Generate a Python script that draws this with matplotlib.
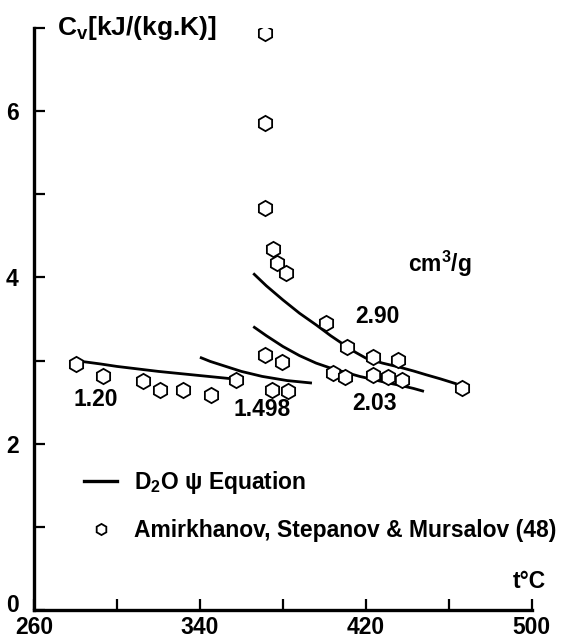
import numpy as np
import matplotlib.pyplot as plt
import matplotlib.transforms as mtransforms
from matplotlib.lines import Line2D

plt.rcParams['font.family'] = ['Liberation Sans', 'DejaVu Sans']
plt.rcParams['font.weight'] = 'bold'
plt.rcParams['mathtext.fontset'] = 'custom'
plt.rcParams['mathtext.rm'] = 'Liberation Sans:bold'
plt.rcParams['mathtext.bf'] = 'Liberation Sans:bold'
plt.rcParams['mathtext.it'] = 'Liberation Sans:bold'

# measured Cv points, Amirkhanov et al.
t_meas = [280.2, 293.1, 312.4, 320.7, 332.0, 345.2, 357.3,
          371.3, 371.3, 371.3, 375.3, 377.0, 381.3,
          371.3, 379.7, 374.5, 382.3,
          400.6, 411.0, 404.2, 409.9, 423.2, 423.2,
          435.6, 430.5, 437.2, 466.1]
cv_meas = [2.96, 2.82, 2.75, 2.65, 2.65, 2.59, 2.77,
           6.94, 5.86, 4.83, 4.34, 4.17, 4.06,
           3.07, 2.98, 2.65, 2.64,
           3.45, 3.16, 2.85, 2.80, 3.04, 2.83,
           3.01, 2.80, 2.77, 2.67]

# D2O psi equation curves (cm3/g)
t_120 = [283, 292, 300, 310, 320, 330, 340, 348, 356]
cv_120 = [2.99, 2.96, 2.93, 2.90, 2.87, 2.845, 2.82, 2.80, 2.78]
t_1498 = [340, 345, 350, 355, 360, 365, 370, 376, 382, 388, 394]
cv_1498 = [3.04, 2.99, 2.95, 2.91, 2.87, 2.84, 2.81, 2.785, 2.76, 2.745, 2.73]
t_203 = [365.7, 372, 380, 388, 396, 403, 410, 417, 424, 430, 437, 443, 448]
cv_203 = [3.41, 3.30, 3.17, 3.06, 2.97, 2.91, 2.86, 2.81, 2.77, 2.735, 2.70, 2.665, 2.63]
t_290 = [365.7, 372, 380, 388, 396, 403, 410.7, 415, 420, 428, 436.4, 443, 449, 456, 463.7]
cv_290 = [4.05, 3.90, 3.73, 3.57, 3.43, 3.30, 3.17, 3.10, 3.03, 2.97, 2.92, 2.875, 2.83, 2.78, 2.72]

curve_labels = ['1.20', '1.498', '2.03', '2.90']
label_t = [290, 370, 424.3, 425.6]
label_cv = [2.53, 2.41, 2.49, 3.53]

fig = plt.figure(figsize=(5.61, 6.39), dpi=100)
ax = fig.add_axes([0.0606, 0.0454, 0.8874, 0.9106])

for tt, cc in [(t_120, cv_120), (t_1498, cv_1498), (t_203, cv_203), (t_290, cv_290)]:
    ax.plot(tt, cc, color='black', lw=2.0, solid_capstyle='butt')

ax.plot(t_meas, cv_meas, linestyle='none', marker='h', ms=11,
        mfc='white', mec='black', mew=1.3)

for lab, x, y in zip(curve_labels, label_t, label_cv):
    ax.text(x, y, lab, fontsize=16.5, ha='center', va='center')

ax.text(455.7, 4.16, 'cm$^3$/g', fontsize=16.5, ha='center', va='center')
ax.text(499, 0.34, 't°C', fontsize=16.5, ha='center', va='center')
ax.text(271, 7.0, r'C$_\mathregular{v}$[kJ/(kg.K)]', fontsize=19,
        ha='left', va='center')

ax.set_xlim(260, 500)
ax.set_ylim(0, 7)
ax.set_xticks(np.arange(260, 501, 40))
ax.set_xticklabels(['260', '', '340', '', '420', '', '500'])
ax.set_yticks(np.arange(0, 8, 1))
ax.set_yticklabels(['0', '', '2', '', '4', '', '6', ''])
ax.tick_params(direction='in', length=8, width=1.6, labelsize=16.5, pad=4)
ax.tick_params(axis='y', pad=11)
for s in ['top', 'right']:
    ax.spines[s].set_visible(False)
for s in ['left', 'bottom']:
    ax.spines[s].set_linewidth(2.4)

# nudge the "0" up a little so it clears "260"
zero_lab = ax.get_yticklabels()[0]
zero_lab.set_transform(zero_lab.get_transform() +
                       mtransforms.ScaledTranslation(0, 5 / 72, fig.dpi_scale_trans))

handles = [Line2D([], [], color='black', lw=2.4),
           Line2D([], [], linestyle='none', marker='h', ms=8,
                  mfc='white', mec='black', mew=1.3)]
ax.legend(handles, [r'D$_2$O ψ Equation', 'Amirkhanov, Stepanov & Mursalov (48)'],
          loc='upper left', bbox_to_anchor=(0.06, 0.277), frameon=False,
          fontsize=16.5, handlelength=1.4, handletextpad=0.75, labelspacing=1.0)

fig.savefig('out.png', dpi=100)
